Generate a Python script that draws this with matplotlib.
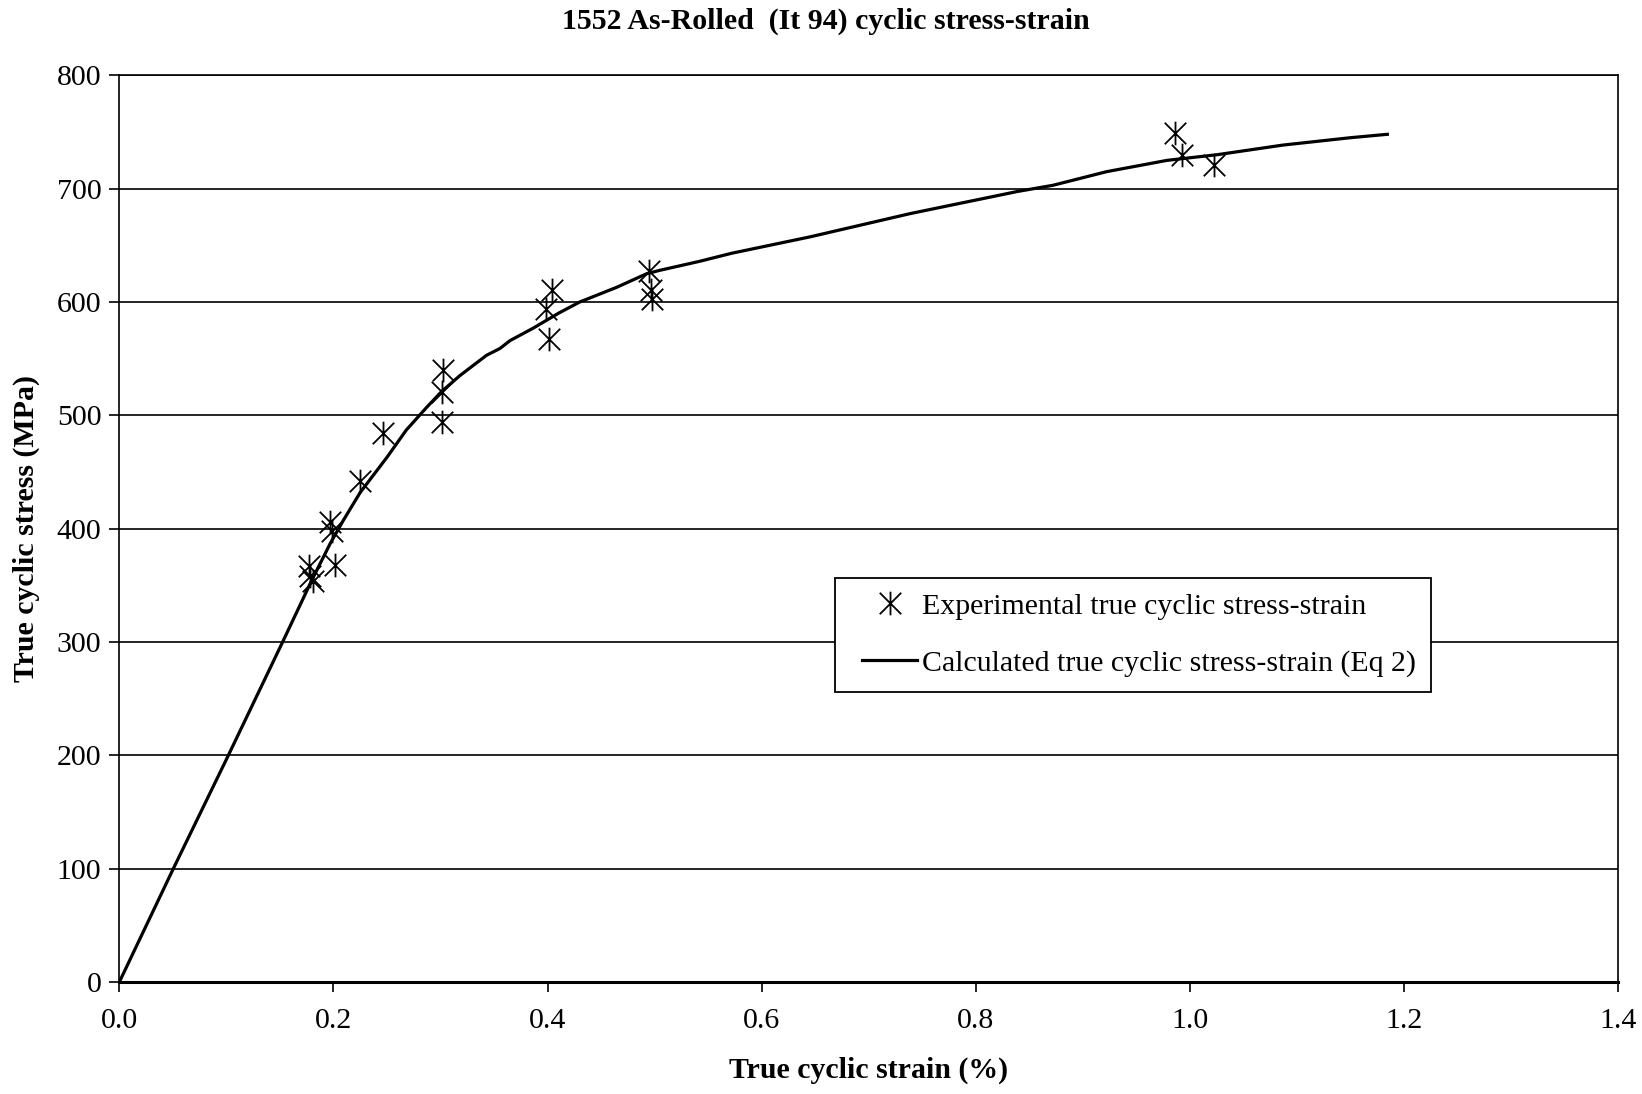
import matplotlib
matplotlib.use("Agg")
import matplotlib.pyplot as plt
from matplotlib.path import Path
from matplotlib.legend_handler import HandlerLine2D

# Experimental true cyclic stress-strain points
exp_strain = [0.177, 0.178, 0.181, 0.197, 0.199, 0.2015, 0.225, 0.246,
              0.302, 0.301, 0.301, 0.404, 0.399, 0.401, 0.495, 0.497, 0.498,
              0.986, 0.993, 1.023]
exp_stress = [367, 358, 354, 406, 398, 368, 442, 484,
              540, 521, 494, 611, 594, 567, 627, 611, 603,
              749, 730, 721]

# Calculated true cyclic stress-strain curve (Eq 2)
calc_strain = [0.0, 0.0504, 0.1018, 0.1525, 0.170, 0.180, 0.197, 0.209, 0.225,
               0.250, 0.268, 0.287, 0.301, 0.318, 0.343, 0.3555, 0.365, 0.3867,
               0.410, 0.430, 0.4646, 0.4926, 0.505, 0.5424, 0.5718, 0.6452,
               0.7386, 0.8387, 0.8721, 0.9221, 0.9787, 1.0255, 1.087,
               1.150, 1.1845]
calc_stress = [0, 100, 200, 300, 335, 355, 387, 407, 432,
               463, 487, 507, 521, 535, 553, 559, 566, 577,
               590, 600, 613, 625, 628, 636, 643, 657.5,
               678, 697.5, 703, 715, 725, 730, 738.5,
               745, 748]

x_ticks = [0.0, 0.2, 0.4, 0.6, 0.8, 1.0, 1.2, 1.4]
y_ticks = [0, 100, 200, 300, 400, 500, 600, 700, 800]

title = "1552 As-Rolled  (It 94) cyclic stress-strain"
xlabel = "True cyclic strain (%)"
ylabel = "True cyclic stress (MPa)"
exp_label = "Experimental true cyclic stress-strain"
calc_label = "Calculated true cyclic stress-strain (Eq 2)"

plt.rcParams['font.family'] = ['Liberation Serif', 'DejaVu Serif']

# Excel-style star marker: X with a vertical bar
star = Path([(-1, -1), (1, 1), (-1, 1), (1, -1), (0, -1.1), (0, 1.1)],
            [Path.MOVETO, Path.LINETO, Path.MOVETO, Path.LINETO, Path.MOVETO, Path.LINETO])

FS = 21.5

fig = plt.figure(figsize=(16.42, 10.94), dpi=100)
ax = fig.add_axes([0.0727, 0.1024, 0.9127, 0.8287])

ax.set_xlim(0, 1.4)
ax.set_ylim(0, 800)
ax.set_xticks(x_ticks)
ax.set_yticks(y_ticks)
ax.set_xticklabels([f"{v:.1f}" for v in x_ticks])
ax.set_yticklabels([str(v) for v in y_ticks])
ax.yaxis.grid(True, color='black', linewidth=1.2)
ax.set_axisbelow(True)
for s in ax.spines.values():
    s.set_color('black')
    s.set_linewidth(1.2)
ax.spines['bottom'].set_linewidth(2.2)
ax.tick_params(axis='both', direction='out', length=7, width=1.2, labelsize=FS, colors='black', pad=6)
ax.tick_params(axis='x', pad=12)

line_calc, = ax.plot(calc_strain, calc_stress, color='black', linewidth=2.3,
                     label=calc_label, zorder=3)
line_exp, = ax.plot(exp_strain, exp_stress, linestyle='none', marker=star, markersize=17,
                    markeredgewidth=1.3, markeredgecolor='black', markerfacecolor='none',
                    color='black', label=exp_label, zorder=4)

fig.suptitle(title, fontsize=FS, fontweight='bold', x=0.503, y=0.993, va='top')
ax.set_xlabel(xlabel, fontsize=FS, fontweight='bold', labelpad=16)
ax.set_ylabel(ylabel, fontsize=FS, fontweight='bold', labelpad=12)

leg = ax.legend([line_exp, line_calc], [exp_label, calc_label],
                loc='upper left', bbox_to_anchor=(0.4773, 0.4456),
                fontsize=FS, frameon=True, fancybox=False, edgecolor='black',
                framealpha=1, borderpad=0.5, handlelength=2.27, handletextpad=0.15,
                labelspacing=1.0, borderaxespad=0,
                handler_map={line_exp: HandlerLine2D(xpad=0.42, marker_pad=0.3),
                             line_calc: HandlerLine2D(xpad=0.42)})
leg.get_frame().set_linewidth(1.3)

fig.savefig("out.png", dpi=100)
